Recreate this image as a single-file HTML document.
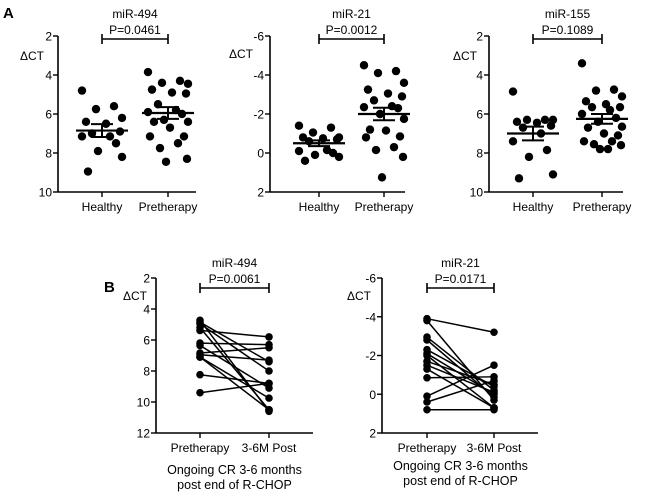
<!DOCTYPE html>
<html><head><meta charset="utf-8">
<style>body{margin:0;background:#fff}svg{display:block;font-family:"Liberation Sans",Arial,sans-serif}</style>
</head><body>
<svg id="chart" width="650" height="492" viewBox="0 0 650 492">
<text x="3" y="18" font-size="15" font-weight="bold">A</text>
<text x="104" y="292" font-size="15" font-weight="bold">B</text>
</svg>
<script>
// Panel A data
const a494Healthy=[4.8,5.6,5.75,6.2,6.4,6.5,6.9,7.0,7.15,7.15,7.5,7.9,8.2,8.95];
const a494Pre=[3.85,4.3,4.4,4.45,4.75,4.9,4.95,5.5,5.8,5.9,6.0,6.3,6.4,6.4,6.7,7.15,7.15,7.5,7.75,8.3,8.45];
const a21Healthy=[-1.4,-1.3,-1.05,-0.8,-0.8,-0.75,-0.7,-0.6,-0.15,-0.1,0.0,0.1,0.2,0.4];
const a21Pre=[-4.5,-4.2,-4.1,-3.6,-3.25,-3.05,-2.9,-2.7,-2.4,-2.35,-2.3,-2.0,-1.75,-1.2,-1.15,-0.85,-0.8,-0.3,-0.15,0.2,1.25];
const a155Healthy=[4.85,6.3,6.3,6.3,6.4,6.45,6.6,6.7,7.0,7.4,7.85,8.2,9.1,9.3];
const a155Pre=[3.4,4.75,4.8,5.1,5.35,5.5,5.65,5.65,5.8,6.0,6.2,6.4,6.65,6.7,7.0,7.1,7.4,7.4,7.55,7.6,7.8,7.8];
const aMeans494=[6.85,5.95], aSem494=[0.33,0.3];
const aMeans21=[-0.5,-2.0], aSem21=[0.15,0.32];
const aMeans155=[7.0,6.25], aSem155=[0.35,0.25];
// Panel B paired data [pre, post]
const b494Pre=[4.73,4.85,4.95,5.2,5.38,6.2,6.35,6.84,6.95,7.1,7.1,8.24,9.4];
const b494Post=[10.6,7.4,8.0,10.5,5.8,6.3,9.1,6.5,7.3,9.75,10.5,8.8,8.8];
const b21Pre=[-3.9,-3.8,-2.95,-2.8,-2.3,-2.1,-2.0,-1.7,-1.5,-1.3,-0.85,0.1,0.4,0.8];
const b21Post=[-3.2,0.3,-0.2,0.15,-0.4,0.0,0.7,-0.5,-0.1,0.7,-0.9,-1.5,-0.7,0.8];
const ticks494=[2,4,6,8,10], ticks21=[-6,-4,-2,0,2], ticksB494=[2,4,6,8,10,12], ticksB21=[-6,-4,-2,0,2];
const catsA=["Healthy","Pretherapy"], catsB=["Pretherapy","3-6M Post"];
const pvals=["P=0.0461","P=0.0012","P=0.1089","P=0.0061","P=0.0171"];
const titles=["miR-494","miR-21","miR-155","miR-494","miR-21"];

const svg=document.getElementById('chart');const NS='http://www.w3.org/2000/svg';
function mk(t,a,p){const e=document.createElementNS(NS,t);for(const k in a)e.setAttribute(k,a[k]);(p||svg).appendChild(e);return e;}
function jit(i){const pat=[-1,0.6,-0.3,1,-0.8,0.2,0.9,-0.5,0.4,-1,0.7,-0.2,1,-0.7,0.1,0.8,-0.9,0.5,-0.4,0.95,-0.1,0.3];return pat[i%pat.length];}
function panel(o){
  const g=mk('g',{});
  const y=v=>o.y0+(v-o.ticks[0])/(o.ticks[o.ticks.length-1]-o.ticks[0])*(o.y1-o.y0);
  const xs=[o.xc1,o.xc2];
  const ax=mk('line',{x1:o.ax,y1:o.y0,x2:o.ax,y2:o.y1,stroke:'#000','stroke-width':1.6},g);
  const bx=mk('line',{x1:o.ax,y1:o.y1,x2:o.axEnd,y2:o.y1,stroke:'#000','stroke-width':1.6},g);
  o.ticks.forEach(t=>{mk('line',{x1:o.ax-5,x2:o.ax,y1:y(t),y2:y(t),stroke:'#000','stroke-width':1.4},g);
    const tx=mk('text',{x:o.ax-6,y:y(t)+4.5,'font-size':12,'text-anchor':'end'},g);tx.textContent=t;});
  o.cats.forEach((c,i)=>{mk('line',{x1:xs[i],x2:xs[i],y1:o.y1,y2:o.y1+5,stroke:'#000','stroke-width':1.4},g);
    const tx=mk('text',{x:xs[i],y:o.y1+19,'font-size':12,'text-anchor':'middle'},g);tx.textContent=c;});
  const yl=mk('text',{x:o.ylx,y:o.yly,'font-size':12},g);yl.textContent='ΔCT';
  const by=o.y0+o.bOff;
  const ti=mk('text',{x:(xs[0]+xs[1])/2,y:by-21,'font-size':12,'text-anchor':'middle'},g);ti.textContent=o.title;
  const pv=mk('text',{x:(xs[0]+xs[1])/2,y:by-5,'font-size':12,'text-anchor':'middle'},g);pv.textContent=o.p;
  const br=mk('path',{d:`M${xs[0]},${by-5}V${by+5}M${xs[0]},${by}H${xs[1]}M${xs[1]},${by-5}V${by+5}`,stroke:'#000','stroke-width':1.6,fill:'none'},g);
  if(o.paired){
    o.pre.forEach((v,i)=>{const ln=mk('line',{x1:xs[0],y1:y(v),x2:xs[1],y2:y(o.post[i]),stroke:'#000','stroke-width':1.5},g);});
    [o.pre,o.post].forEach((arr,k)=>arr.forEach(v=>{const c=mk('circle',{cx:xs[k],cy:y(v),r:3.8,fill:'#000'},g);}));
  } else {
    [o.s1,o.s2].forEach((arr,k)=>{arr.forEach((v,i)=>{const c=mk('circle',{cx:xs[k]+jit(i)*20,cy:y(v),r:4.2,fill:'#000'},g);});
      const m=o.means[k],s=o.sem[k];
      const ml=mk('line',{x1:xs[k]-26,x2:xs[k]+26,y1:y(m),y2:y(m),stroke:'#000','stroke-width':2.2},g);
      const eb=mk('path',{d:`M${xs[k]},${y(m-s)}V${y(m+s)}M${xs[k]-11},${y(m-s)}H${xs[k]+11}M${xs[k]-11},${y(m+s)}H${xs[k]+11}`,stroke:'#000','stroke-width':2,fill:'none'},g);});
  }
  if(o.caption){o.caption.forEach((c,i)=>{const t=mk('text',{x:(xs[0]+xs[1])/2,y:o.capY+i*15,'font-size':12.5,'text-anchor':'middle'},g);t.textContent=c;});}
}
panel({name:'panel-a-mir494',ax:58,axEnd:196,y0:36,y1:192,bOff:3,ticks:ticks494,xc1:102,xc2:168,cats:catsA,title:titles[0],p:pvals[0],s1:a494Healthy,s2:a494Pre,means:aMeans494,sem:aSem494,ylx:20,yly:60});
panel({name:'panel-a-mir21',ax:270,axEnd:405,y0:36,y1:192,bOff:3,ticks:ticks21,xc1:319,xc2:384,cats:catsA,title:titles[1],p:pvals[1],s1:a21Healthy,s2:a21Pre,means:aMeans21,sem:aSem21,ylx:229,yly:58});
panel({name:'panel-a-mir155',ax:489,axEnd:623,y0:36,y1:192,bOff:3,ticks:ticks494,xc1:533,xc2:602,cats:catsA,title:titles[2],p:pvals[2],s1:a155Healthy,s2:a155Pre,means:aMeans155,sem:aSem155,ylx:453,yly:60});
panel({name:'panel-b-mir494',ax:156,axEnd:313,y0:278,y1:433,bOff:10,ticks:ticksB494,xc1:200,xc2:269,cats:catsB,title:titles[3],p:pvals[3],paired:true,pre:b494Pre,post:b494Post,ylx:123,yly:300,caption:['Ongoing CR 3-6 months','post end of R-CHOP'],capY:474});
panel({name:'panel-b-mir21',ax:382,axEnd:538,y0:278,y1:433,bOff:10,ticks:ticksB21,xc1:427,xc2:494,cats:catsB,title:titles[4],p:pvals[4],paired:true,pre:b21Pre,post:b21Post,ylx:347,yly:300,caption:['Ongoing CR 3-6 months','post end of R-CHOP'],capY:470});
</script>
</body></html>
